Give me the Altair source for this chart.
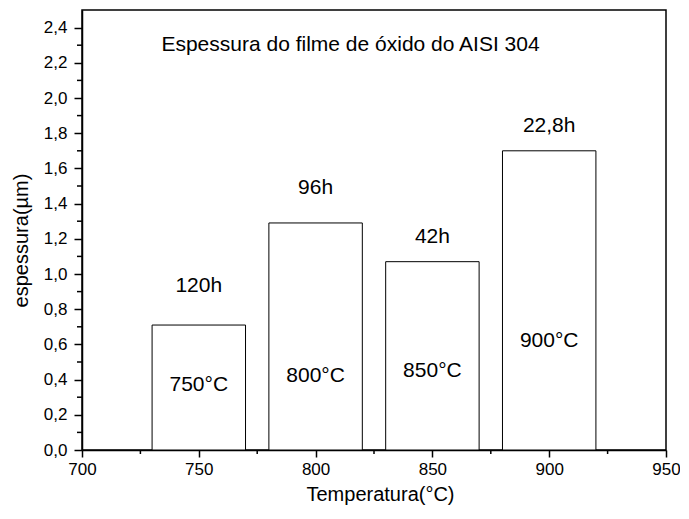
import altair as alt
import pandas as pd

# ---- data ----
temps = [750, 800, 850, 900]
thickness = [0.71, 1.29, 1.07, 1.70]
durations = ["120h", "96h", "42h", "22,8h"]
temp_labels = ["750°C", "800°C", "850°C", "900°C"]
duration_label_y = [0.93, 1.49, 1.21, 1.84]
temp_label_y = [0.37, 0.42, 0.45, 0.62]
bar_half_width = 20

x_ticks = [700, 750, 800, 850, 900, 950]
x_minor = [725, 775, 825, 875, 925]
y_ticks = [0.0, 0.2, 0.4, 0.6, 0.8, 1.0, 1.2, 1.4, 1.6, 1.8, 2.0, 2.2, 2.4]
y_minor = [0.1, 0.3, 0.5, 0.7, 0.9, 1.1, 1.3, 1.5, 1.7, 1.9, 2.1, 2.3]

title_text = ["Espessura do filme de óxido do AISI 304"]
title_x = [734]
title_y = [2.30]

FONT = "Liberation Sans"
W, H = 584, 440

bars_df = pd.DataFrame({
    "temp": temps,
    "thick": thickness,
    "dur": durations,
    "tlabel": temp_labels,
    "dur_y": duration_label_y,
    "tl_y": temp_label_y,
})

xscale = alt.Scale(domain=[700, 950], nice=False, zero=False)
yscale = alt.Scale(domain=[0, 2.5], nice=False)

xaxis = alt.Axis(values=x_ticks, title="Temperatura(°C)", format="d",
                 labelFlush=False, titlePadding=7, tickSize=7, labelPadding=4,
                 titleX=298)
yaxis = alt.Axis(values=y_ticks, title="espessura(µm)", titlePadding=12,
                 tickSize=8, labelPadding=7, titleY=230,
                 labelExpr="replace(format(datum.value, '.1f'), '.', ',')")

base = alt.Chart(bars_df)

bars = base.transform_calculate(
    x0=f"datum.temp - {bar_half_width}",
    x1=f"datum.temp + {bar_half_width}",
).mark_rect(fill="white", stroke="black", strokeWidth=1).encode(
    x=alt.X("x0:Q", scale=xscale, axis=xaxis),
    x2="x1:Q",
    y=alt.Y("thick:Q", scale=yscale, axis=yaxis),
    y2=alt.datum(0),
)

dur_text = base.mark_text(font=FONT, fontSize=21, color="black").encode(
    x=alt.X("temp:Q", scale=xscale, axis=xaxis),
    y=alt.Y("dur_y:Q", scale=yscale, axis=yaxis),
    text="dur:N",
)

temp_text = base.mark_text(font=FONT, fontSize=21, color="black").encode(
    x=alt.X("temp:Q", scale=xscale, axis=xaxis),
    y=alt.Y("tl_y:Q", scale=yscale, axis=yaxis),
    text="tlabel:N",
)

title_df = pd.DataFrame({"x": title_x, "y": title_y, "t": title_text})
title_mark = alt.Chart(title_df).mark_text(
    font=FONT, fontSize=21, color="black", align="left"
).encode(
    x=alt.X("x:Q", scale=xscale, axis=xaxis),
    y=alt.Y("y:Q", scale=yscale, axis=yaxis),
    text="t:N",
)

ymin_df = pd.DataFrame({"v": y_minor})
y_minor_ticks = alt.Chart(ymin_df).mark_rule(color="black", strokeWidth=1.5).encode(
    y=alt.Y("v:Q", scale=yscale, axis=yaxis),
    x=alt.value(0),
    x2=alt.value(-5),
)

xmin_df = pd.DataFrame({"v": x_minor})
x_minor_ticks = alt.Chart(xmin_df).mark_rule(color="black", strokeWidth=1.5).encode(
    x=alt.X("v:Q", scale=xscale, axis=xaxis),
    y=alt.value(H),
    y2=alt.value(H + 4),
)

chart = alt.layer(bars, dur_text, temp_text, title_mark, y_minor_ticks, x_minor_ticks).properties(
    width=W, height=H,
    autosize=alt.AutoSizeParams(type="none"),
    padding={"left": 74, "top": 2, "right": 14, "bottom": 61},
).configure_view(
    stroke="black", strokeWidth=1.5
).configure_axis(
    grid=False, labelFont=FONT, labelFontSize=17, labelColor="black",
    titleFont=FONT, titleFontSize=20, titleFontWeight="normal", titleColor="black",
    domainColor="black", domainWidth=1.5, tickColor="black", tickWidth=1.5,
    labelOverlap=False,
)

chart.save("out.html", embed_options={"renderer": "svg", "actions": False})
